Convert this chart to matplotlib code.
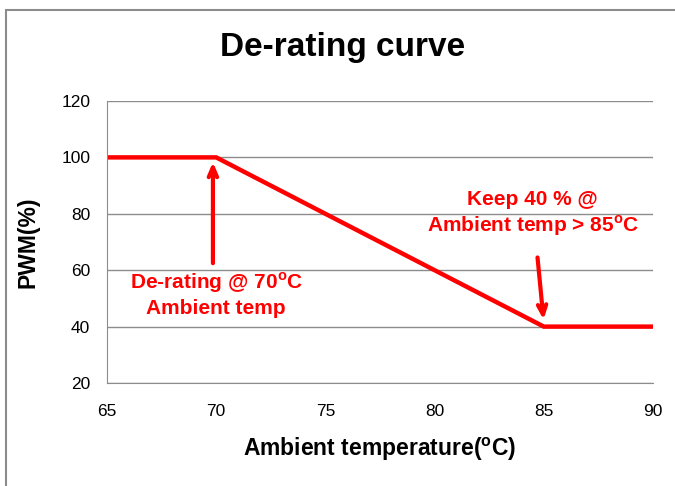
import matplotlib
matplotlib.use("Agg")
import matplotlib.pyplot as plt
from matplotlib.patches import Rectangle

plt.rcParams['font.family'] = ['Liberation Sans', 'DejaVu Sans']
plt.rcParams['mathtext.fontset'] = 'custom'
plt.rcParams['mathtext.rm'] = 'Liberation Sans'
plt.rcParams['mathtext.bf'] = 'Liberation Sans:bold'

# dados da curva
temperatura = [65, 70, 72, 75, 77, 80, 82, 85, 90]
pwm = [100, 100, 92, 80, 72, 60, 52, 40, 40]

x_ticks = [65, 70, 75, 80, 85, 90]
y_ticks = [20, 40, 60, 80, 100, 120]

vermelho = "#FF0000"

fig = plt.figure(figsize=(6.75, 4.86), dpi=100)

# moldura externa do grafico
fig.patches.append(Rectangle((6 / 675, -0.01), 1.0, 1 - 9.5 / 486 + 0.01,
                             transform=fig.transFigure, fill=False,
                             edgecolor="#8c8c8c", linewidth=1.5))

ax = fig.add_axes([0.1585, 0.2119, 0.8089, 0.5803])
ax.plot(temperatura, pwm, color=vermelho, linewidth=3.2, solid_joinstyle="miter")

ax.set_xlim(65, 90)
ax.set_ylim(20, 120)
ax.set_xticks(x_ticks)
ax.set_yticks(y_ticks)
ax.tick_params(length=0, labelsize=12.5)
ax.tick_params(axis="x", pad=15)
ax.tick_params(axis="y", pad=12)
ax.grid(axis="y", color="#8c8c8c", linewidth=1.0)
ax.set_axisbelow(True)
for s in ["top", "right"]:
    ax.spines[s].set_visible(False)
for s in ["left", "bottom"]:
    ax.spines[s].set_color("#8c8c8c")

fig.text(0.508, 0.902, "De-rating curve", ha="center", va="center",
         fontsize=24, fontweight="bold")
ax.set_xlabel(r"Ambient temperature($^{\mathbf{o}}$C)", fontsize=16.5,
              fontweight="bold", labelpad=12)
ax.set_ylabel("PWM(%)", fontsize=16.5, fontweight="bold", labelpad=16)

# anotacoes
ax.annotate("", xy=(69.85, 99.3), xytext=(69.85, 61.5),
            arrowprops=dict(arrowstyle="->,head_length=0.7,head_width=0.3",
                            color=vermelho, lw=3))
ax.text(70.0, 51.5, "De-rating @ 70$^{\\mathbf{o}}$C\nAmbient temp",
        color=vermelho, fontsize=15, fontweight="bold", ha="center",
        va="center", linespacing=1.25)

ax.annotate("", xy=(85.0, 41.5), xytext=(84.7, 65.5),
            arrowprops=dict(arrowstyle="->,head_length=0.7,head_width=0.3",
                            color=vermelho, lw=3))
ax.text(84.5, 80.0, "Keep 40 % @\nAmbient temp > 85$^{\\mathbf{o}}$C",
        color=vermelho, fontsize=15, fontweight="bold", ha="center",
        va="center", linespacing=1.25)

fig.savefig("out.png", dpi=100)
